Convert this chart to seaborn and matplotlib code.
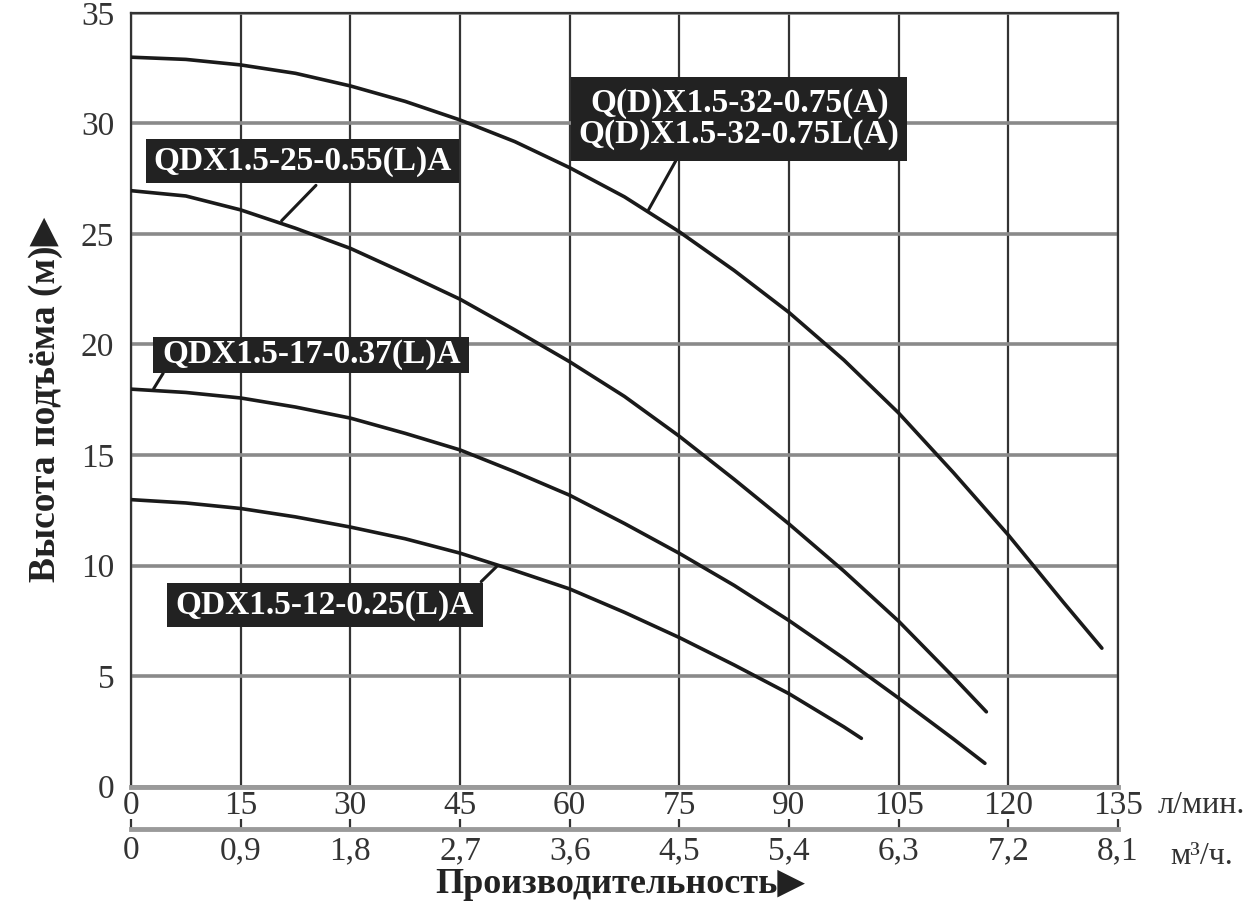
import pandas as pd
import matplotlib
matplotlib.use('Agg')
import matplotlib.pyplot as plt
import seaborn as sns
from matplotlib.patches import Rectangle

# pump curves: flow in l/min, head in m
flow_32 = [0, 7.5, 15, 22.5, 30, 37.5, 45, 52.5, 60, 67.5, 75, 82.5, 90, 97.5,
           105, 112.5, 120, 127.5, 132.8]
head_32 = [33.0, 32.9, 32.65, 32.27, 31.7, 31.0, 30.16, 29.18, 28.0, 26.68, 25.1,
           23.35, 21.45, 19.3, 16.9, 14.2, 11.38, 8.35, 6.26]

flow_25 = [0, 7.5, 15, 22.5, 30, 37.5, 45, 52.5, 60, 67.5, 75, 82.5, 90, 97.5,
           105, 112.5, 117.0]
head_25 = [26.96, 26.72, 26.09, 25.26, 24.35, 23.22, 22.05, 20.66, 19.22, 17.65,
           15.85, 13.9, 11.88, 9.75, 7.48, 4.95, 3.38]

flow_17 = [0, 7.5, 15, 22.5, 30, 37.5, 45, 52.5, 60, 67.5, 75, 82.5, 90, 97.5,
           105, 112.5, 116.8]
head_17 = [17.98, 17.83, 17.58, 17.17, 16.67, 15.98, 15.23, 14.24, 13.18, 11.9,
           10.55, 9.1, 7.51, 5.8, 4.0, 2.15, 1.05]

flow_12 = [0, 7.5, 15, 22.5, 30, 37.5, 45, 52.5, 60, 67.5, 75, 82.5, 90, 97.5, 99.9]
head_12 = [12.98, 12.83, 12.58, 12.2, 11.74, 11.21, 10.56, 9.77, 8.94, 7.88, 6.74,
           5.5, 4.2, 2.7, 2.18]

labels = ['Q(D)X1.5-32-0.75(A)\nQ(D)X1.5-32-0.75L(A)',
          'QDX1.5-25-0.55(L)A',
          'QDX1.5-17-0.37(L)A',
          'QDX1.5-12-0.25(L)A']

flow_ticks = [0, 15, 30, 45, 60, 75, 90, 105, 120, 135]
m3h_ticks = [0, 0.9, 1.8, 2.7, 3.6, 4.5, 5.4, 6.3, 7.2, 8.1]
m3h_labels = ['0', '0,9', '1,8', '2,7', '3,6', '4,5', '5,4', '6,3', '7,2', '8,1']
head_ticks = [0, 5, 10, 15, 20, 25, 30, 35]

frames = []
for name, fl, hd in zip(labels, [flow_32, flow_25, flow_17, flow_12],
                        [head_32, head_25, head_17, head_12]):
    frames.append(pd.DataFrame({'model': name, 'flow': fl, 'head': hd}))
df = pd.concat(frames, ignore_index=True)

# label box geometry (data coords): x0, x1, y0, y1, leader line
boxes = [
    (60.2, 106.2, 28.3, 32.1, (70.8, 74.5), (26.1, 28.3)),
    (2.1, 44.8, 27.3, 29.3, (20.6, 25.3), (25.6, 27.2)),
    (3.0, 46.3, 18.7, 20.35, (3.1, 4.4), (18.0, 18.7)),
    (4.9, 48.1, 7.2, 9.2, (47.9, 50.0), (9.27, 9.95)),
]

sns.set_theme(style='white')
plt.rcParams['font.family'] = ['Liberation Serif', 'DejaVu Sans']

fig = plt.figure(figsize=(12.56, 9.08), dpi=100)
ax = fig.add_axes([0.1043, 0.1338, 0.7858, 0.8519])

for name in labels:
    sub = df[df['model'] == name]
    sns.lineplot(data=sub, x='flow', y='head', ax=ax, color='#1a1a1a',
                 linewidth=2.6, sort=False, estimator=None, legend=False, zorder=3)

for (x0, x1, y0, y1, lx, ly), text in zip(boxes, labels):
    ax.plot(lx, ly, color='#1a1a1a', linewidth=2.2, zorder=3)
    ax.add_patch(Rectangle((x0, y0), x1 - x0, y1 - y0, facecolor='#222222',
                           edgecolor='none', zorder=4))
    ax.text((x0 + x1) / 2, (y0 + y1) / 2, text, color='white', fontsize=24,
            fontweight='bold', ha='center', va='center', linespacing=1.0, zorder=5)

ax.set_xlim(0, 135)
ax.set_ylim(0, 35)
ax.set_xticks(flow_ticks)
ax.set_yticks(head_ticks)
ax.set_xlabel('')
ax.set_ylabel('')
ax.set_axisbelow(True)
ax.grid(axis='x', color='#333333', linewidth=1.6)
ax.grid(axis='y', color='#8a8a8a', linewidth=2.6)
ax.tick_params(axis='x', length=0, pad=3, labelsize=24, labelcolor='#333333')
ax.tick_params(axis='y', length=0, pad=12, labelsize=24, labelcolor='#333333')

for side in ['left', 'right', 'top']:
    ax.spines[side].set_color('#333333')
    ax.spines[side].set_linewidth(1.6)
ax.spines['bottom'].set_color('#9a9a9a')
ax.spines['bottom'].set_linewidth(3.5)

# second scale in m3/h
sec = ax.secondary_xaxis(-0.055, functions=(lambda x: x * 0.06, lambda x: x / 0.06))
sec.set_xticks(m3h_ticks, m3h_labels)
sec.tick_params(direction='in', length=7, width=1.6, color='#333333',
                pad=5, labelsize=24, labelcolor='#333333')
sec.spines['bottom'].set_color('#9a9a9a')
sec.spines['bottom'].set_linewidth(3.5)

ax.text(1.0405, -0.024, 'л/мин.', transform=ax.transAxes, fontsize=23,
        color='#333333', ha='left', va='center')
ax.text(1.0527, -0.09, 'м³/ч.', transform=ax.transAxes, fontsize=23,
        color='#333333', ha='left', va='center')

fig.text(0.494, 0.026, 'Производительность▶', ha='center', va='center',
         fontsize=26, fontweight='bold', color='#222222')
fig.text(0.036, 0.56, 'Высота подъёма (м)▶', ha='center', va='center',
         rotation=90, fontsize=27, fontweight='bold', color='#222222')

fig.savefig('out.png', dpi=100)
plt.close(fig)
